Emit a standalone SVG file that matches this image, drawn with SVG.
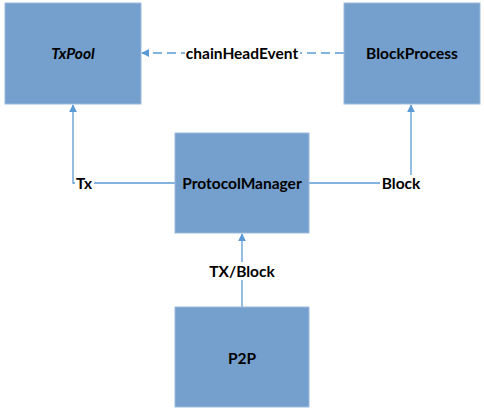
<svg xmlns="http://www.w3.org/2000/svg" width="484" height="416" viewBox="0 0 484 416">
<defs>
<style>
.box{fill:#759fcc;stroke:#9dbadf;stroke-width:1}
.t{font-family:Lato,"Open Sans",sans-serif;font-weight:bold;font-size:15.5px;fill:#000;text-anchor:middle}
.c{fill:none;stroke:#5b9bd5;stroke-width:1.3}
.bg{fill:#fff}
</style>
<marker id="ah" viewBox="0 0 10 10" refX="9" refY="5" markerWidth="8" markerHeight="8" markerUnits="userSpaceOnUse" orient="auto">
<path d="M0,0 L10,5 L0,10 z" fill="#5b9bd5"/>
</marker>
</defs>
<rect width="484" height="416" fill="#fff"/>
<g id="connectors">
<path class="c" d="M344,53 H142" stroke-dasharray="9,5" marker-end="url(#ah)"/>
<rect class="bg" x="185" y="44" width="115" height="18"/>
<text class="t" x="242" y="58.5">chainHeadEvent</text>
<path class="c" d="M175,183 H73 V105" marker-end="url(#ah)"/>
<rect class="bg" x="75" y="175" width="19" height="16"/>
<text class="t" x="84" y="188.5">Tx</text>
<path class="c" d="M309,183 H411 V105" marker-end="url(#ah)"/>
<rect class="bg" x="380" y="175" width="42" height="16"/>
<text class="t" x="401" y="188.5">Block</text>
<path class="c" d="M242,307 V234" marker-end="url(#ah)"/>
<rect class="bg" x="208" y="262" width="68" height="18"/>
<text class="t" x="242" y="276.5">TX/Block</text>
</g>
<g id="txpool">
<rect class="box" x="5" y="3" width="136" height="101"/>
<text class="t" x="73" y="58.5" font-style="italic">TxPool</text>
</g>
<g id="blockprocess">
<rect class="box" x="344" y="3" width="136" height="101"/>
<text class="t" x="412" y="58.5">BlockProcess</text>
</g>
<g id="protocolmanager">
<rect class="box" x="175" y="133" width="134" height="100"/>
<text class="t" x="242" y="188.5">ProtocolManager</text>
</g>
<g id="p2p">
<rect class="box" x="175" y="307" width="134" height="100"/>
<text class="t" x="242" y="363.5">P2P</text>
</g>
</svg>
